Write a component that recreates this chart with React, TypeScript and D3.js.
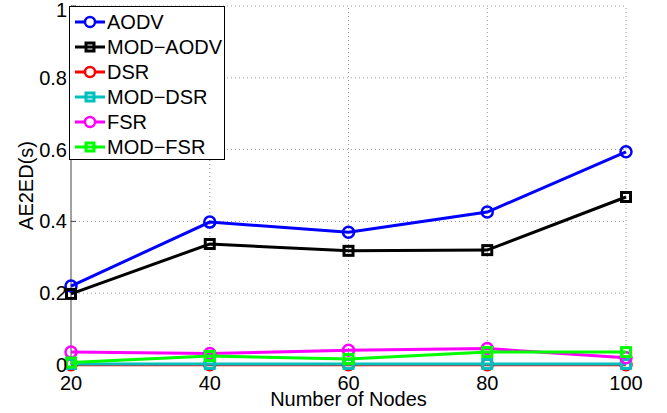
import { useEffect, useRef } from 'react';
import * as d3 from 'd3';

const nodes = [20, 40, 60, 80, 100];
const aodv = [0.22, 0.398, 0.37, 0.426, 0.594];
const modAodv = [0.198, 0.337, 0.318, 0.32, 0.468];
const dsr = [0.001, 0.001, 0.001, 0.001, 0.001];
const modDsr = [0.003, 0.003, 0.003, 0.003, 0.003];
const fsr = [0.036, 0.032, 0.041, 0.046, 0.02];
const modFsr = [0.007, 0.025, 0.017, 0.036, 0.036];
const yTicks = [0, 0.2, 0.4, 0.6, 0.8, 1];
const yTickLabels = ['0', '0.2', '0.4', '0.6', '0.8', '1'];

const series = [
  { name: 'AODV', values: aodv, color: '#0000ff', marker: 'circle' },
  { name: 'MOD\u2212AODV', values: modAodv, color: '#000000', marker: 'square' },
  { name: 'DSR', values: dsr, color: '#ff0000', marker: 'circle' },
  { name: 'MOD\u2212DSR', values: modDsr, color: '#00bfbf', marker: 'square' },
  { name: 'FSR', values: fsr, color: '#ff00ff', marker: 'circle' },
  { name: 'MOD\u2212FSR', values: modFsr, color: '#00ff00', marker: 'square' },
];

export default function App() {
  const svgRef = useRef<SVGSVGElement>(null);

  useEffect(() => {
    if (!svgRef.current) return;
    const width = 667;
    const height = 413;
    const margin = { top: 6, right: 41, bottom: 48, left: 71 };
    const font = 'Liberation Sans, Arial, sans-serif';

    const svg = d3.select(svgRef.current);
    svg.selectAll('*').remove();
    svg.append('rect').attr('width', width).attr('height', height).attr('fill', '#fff');

    const x = d3.scaleLinear().domain([20, 100]).range([margin.left, width - margin.right]);
    const y = d3.scaleLinear().domain([0, 1]).range([height - margin.bottom, margin.top]);

    // 网格
    const grid = svg.append('g').attr('stroke', '#999').attr('stroke-width', 1).attr('stroke-dasharray', '1,3');
    grid.selectAll('.gx')
      .data(nodes.slice(1))
      .enter()
      .append('line')
      .attr('x1', d => x(d)).attr('x2', d => x(d))
      .attr('y1', y(0)).attr('y2', y(1));
    grid.selectAll('.gy')
      .data(yTicks.slice(1))
      .enter()
      .append('line')
      .attr('x1', x(20)).attr('x2', x(100))
      .attr('y1', d => y(d)).attr('y2', d => y(d));

    // 左轴
    svg.append('line')
      .attr('x1', x(20)).attr('x2', x(20))
      .attr('y1', y(0)).attr('y2', y(1))
      .attr('stroke', '#444').attr('stroke-width', 1);
    svg.selectAll('.ytick')
      .data(yTicks)
      .enter()
      .append('line')
      .attr('x1', x(20)).attr('x2', x(20) + 5)
      .attr('y1', d => y(d)).attr('y2', d => y(d))
      .attr('stroke', '#444');

    // 数据线
    const line = d3.line<number>()
      .x((_, i) => x(nodes[i]))
      .y(d => y(d));

    series.forEach(s => {
      const g = svg.append('g');
      g.append('path')
        .datum(s.values)
        .attr('d', line)
        .attr('fill', 'none')
        .attr('stroke', s.color)
        .attr('stroke-width', 3);
      if (s.marker === 'circle') {
        g.selectAll('circle')
          .data(s.values)
          .enter()
          .append('circle')
          .attr('cx', (_, i) => x(nodes[i]))
          .attr('cy', d => y(d))
          .attr('r', 5.5)
          .attr('fill', 'none')
          .attr('stroke', s.color)
          .attr('stroke-width', 2.5);
      } else {
        g.selectAll('rect')
          .data(s.values)
          .enter()
          .append('rect')
          .attr('x', (_, i) => x(nodes[i]) - 4.5)
          .attr('y', d => y(d) - 4.5)
          .attr('width', 9)
          .attr('height', 9)
          .attr('fill', 'none')
          .attr('stroke', s.color)
          .attr('stroke-width', 3);
      }
    });

    // 刻度标签
    svg.selectAll('.ylab')
      .data(yTicks)
      .enter()
      .append('text')
      .attr('x', x(20) - 4)
      .attr('y', d => Math.max(y(d) + 7, 17))
      .attr('text-anchor', 'end')
      .attr('font-family', font)
      .attr('font-size', 20)
      .text((_, i) => yTickLabels[i]);
    svg.selectAll('.xlab')
      .data(nodes)
      .enter()
      .append('text')
      .attr('x', d => x(d))
      .attr('y', y(0) + 25)
      .attr('text-anchor', 'middle')
      .attr('font-family', font)
      .attr('font-size', 20)
      .text(d => d);

    svg.append('text')
      .attr('x', (x(20) + x(100)) / 2)
      .attr('y', 406)
      .attr('text-anchor', 'middle')
      .attr('font-family', font)
      .attr('font-size', 20)
      .text('Number of Nodes');
    svg.append('text')
      .attr('transform', `translate(33, ${y(0.5)}) rotate(-90)`)
      .attr('text-anchor', 'middle')
      .attr('font-family', font)
      .attr('font-size', 20)
      .text('AE2ED(s)');

    // 图例
    const lg = svg.append('g');
    lg.append('rect')
      .attr('x', 69.5).attr('y', 6.5)
      .attr('width', 155).attr('height', 153)
      .attr('fill', '#fff').attr('stroke', '#000').attr('stroke-width', 1);
    series.forEach((s, i) => {
      const cy = 22 + i * 25;
      lg.append('line')
        .attr('x1', 75).attr('x2', 105)
        .attr('y1', cy).attr('y2', cy)
        .attr('stroke', s.color).attr('stroke-width', 3);
      if (s.marker === 'circle') {
        lg.append('circle')
          .attr('cx', 90).attr('cy', cy).attr('r', 5)
          .attr('fill', '#fff').attr('stroke', s.color).attr('stroke-width', 2.5);
      } else {
        lg.append('rect')
          .attr('x', 86).attr('y', cy - 4).attr('width', 8).attr('height', 8)
          .attr('fill', 'none').attr('stroke', s.color).attr('stroke-width', 3);
      }
      lg.append('text')
        .attr('x', 107).attr('y', cy + 7)
        .attr('font-family', font)
        .attr('font-size', 20)
        .text(s.name);
    });
  }, []);

  return (
    <div style={{ position: 'fixed', top: 0, left: 0 }}>
      <svg ref={svgRef} width={667} height={413} style={{ display: 'block' }} />
    </div>
  );
}
